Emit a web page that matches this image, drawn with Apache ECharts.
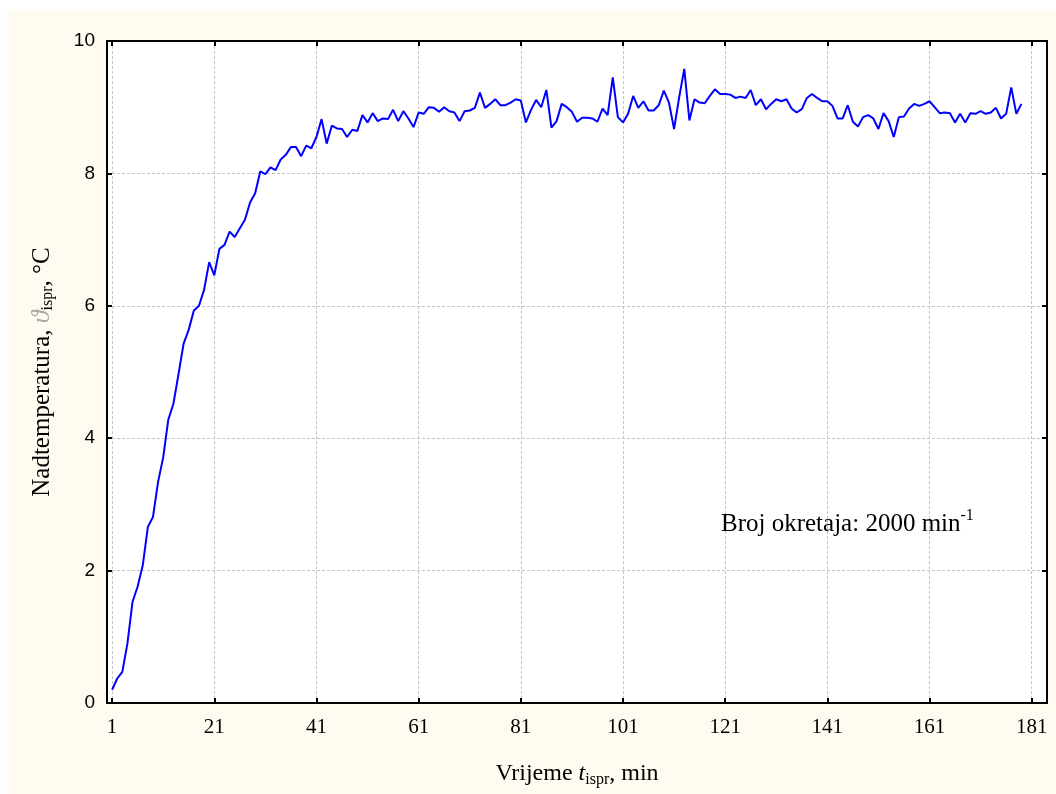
<!DOCTYPE html>
<html>
<head>
<meta charset="utf-8">
<script src="https://cdn.jsdelivr.net/npm/echarts@6/dist/echarts.min.js"></script>
<style>
html,body{margin:0;padding:0;background:#fff;}
#c{width:1056px;height:794px;}
</style>
</head>
<body>
<div id="c"></div>
<script>
// Minutes 1..179 and measured temperature rise (°C)
const temperature = [
  0.20, 0.37, 0.47, 0.90, 1.53, 1.76, 2.08, 2.66, 2.81, 3.34,
  3.71, 4.28, 4.52, 4.97, 5.43, 5.64, 5.93, 6.00, 6.24, 6.66,
  6.46, 6.86, 6.92, 7.12, 7.04, 7.17, 7.30, 7.56, 7.70, 8.03,
  7.99, 8.09, 8.05, 8.21, 8.28, 8.40, 8.40, 8.26, 8.42, 8.38,
  8.55, 8.82, 8.45, 8.72, 8.68, 8.67, 8.55, 8.66, 8.64, 8.88,
  8.77, 8.91, 8.79, 8.83, 8.82, 8.96, 8.79, 8.94, 8.83, 8.70,
  8.92, 8.90, 9.00, 8.99, 8.93, 9.00, 8.94, 8.92, 8.79, 8.94,
  8.95, 8.99, 9.22, 8.99, 9.05, 9.12, 9.03, 9.03, 9.07, 9.12,
  9.10, 8.77, 8.96, 9.11, 9.00, 9.26, 8.69, 8.79, 9.05, 9.00,
  8.93, 8.78, 8.84, 8.84, 8.83, 8.78, 8.98, 8.88, 9.45, 8.85,
  8.77, 8.90, 9.17, 8.99, 9.09, 8.95, 8.95, 9.03, 9.25, 9.07,
  8.67, 9.15, 9.58, 8.80, 9.12, 9.07, 9.06, 9.17, 9.27, 9.20,
  9.20, 9.19, 9.14, 9.16, 9.14, 9.26, 9.03, 9.12, 8.97, 9.05,
  9.12, 9.09, 9.12, 8.98, 8.92, 8.97, 9.14, 9.20, 9.14, 9.09,
  9.09, 9.02, 8.83, 8.83, 9.03, 8.78, 8.71, 8.85, 8.88, 8.83,
  8.67, 8.91, 8.79, 8.55, 8.85, 8.86, 8.98, 9.05, 9.02, 9.05,
  9.09, 9.00, 8.91, 8.92, 8.91, 8.77, 8.90, 8.77, 8.91, 8.90,
  8.94, 8.90, 8.92, 8.99, 8.83, 8.90, 9.30, 8.90, 9.05
];
const minutes = temperature.map((_, i) => i + 1);
const xTickLabels = [1, 21, 41, 61, 81, 101, 121, 141, 161, 181];
const yTickLabels = [0, 2, 4, 6, 8, 10];
const annotationText = 'Broj okretaja: 2000 min';

const chart = echarts.init(document.getElementById('c'), null, {renderer: 'canvas'});
const serif = '"Liberation Serif", "Times New Roman", serif';
const sans = '"Liberation Sans", Arial, sans-serif';
const gridLine = {show: true, lineStyle: {color: '#c4c4c4', type: [3, 2], width: 1}};
const axisLine = {show: true, onZero: false, lineStyle: {color: '#000', width: 2}};

const option = {
  backgroundColor: '#ffffff',
  animation: false,
  graphic: [
    {type: 'rect', z: -100, shape: {x: 7, y: 10, width: 1049, height: 784}, style: {fill: '#fffbf0'}, silent: true},
    {type: 'text', z: 100, style: {
      x: 721, y: 524, verticalAlign: 'middle',
      text: '{a|' + annotationText + '}{s|-1}',
      rich: {
        a: {fontFamily: serif, fontSize: 25, color: '#000', lineHeight: 32, verticalAlign: 'middle'},
        s: {fontFamily: serif, fontSize: 16, color: '#000', lineHeight: 15, verticalAlign: 'top'}
      }
    }}
  ],
  grid: {left: 107, right: 9, top: 41, bottom: 91, show: true, backgroundColor: '#ffffff', borderWidth: 0, containLabel: false},
  xAxis: [{
    type: 'value', min: 0, max: 184, position: 'bottom',
    name: '{a|Vrijeme }{i|t}{s|ispr}{a|, min}',
    nameLocation: 'middle', nameGap: 57,
    nameTextStyle: {
      rich: {
        a: {fontFamily: serif, fontSize: 24, color: '#000', lineHeight: 28, verticalAlign: 'middle'},
        i: {fontFamily: serif, fontSize: 24, fontStyle: 'italic', color: '#000', lineHeight: 28, verticalAlign: 'middle'},
        s: {fontFamily: serif, fontSize: 16, color: '#000', lineHeight: 15, verticalAlign: 'bottom'}
      }
    },
    axisLine: axisLine,
    axisTick: {show: true, inside: true, length: 5, customValues: xTickLabels, lineStyle: {color: '#000', width: 2}},
    axisLabel: {customValues: xTickLabels, margin: 14, fontFamily: serif, fontSize: 21, color: '#000'},
    splitLine: gridLine
  }, {
    type: 'value', min: 0, max: 184, position: 'top',
    axisLine: axisLine,
    axisTick: {show: true, inside: true, length: 5, customValues: xTickLabels, lineStyle: {color: '#000', width: 2}},
    axisLabel: {show: false},
    splitLine: {show: false}
  }],
  yAxis: [{
    type: 'value', min: 0, max: 10, interval: 2, position: 'left',
    name: '{a|Nadtemperatura, }{g|ϑ}{s|ispr}{a|, °C}',
    nameLocation: 'middle', nameGap: 51,
    nameTextStyle: {
      rich: {
        a: {fontFamily: serif, fontSize: 25, color: '#000', lineHeight: 28, verticalAlign: 'middle'},
        g: {fontFamily: serif, fontSize: 26, fontStyle: 'italic', color: '#a8a8a8', lineHeight: 28, verticalAlign: 'middle'},
        s: {fontFamily: serif, fontSize: 16, color: '#000', lineHeight: 15, verticalAlign: 'bottom'}
      }
    },
    axisLine: axisLine,
    axisTick: {show: true, inside: true, length: 5, lineStyle: {color: '#000', width: 2}},
    axisLabel: {margin: 12, fontFamily: sans, fontSize: 19, color: '#000',
      formatter: v => (yTickLabels.indexOf(v) >= 0 ? String(v) : '')},
    splitLine: gridLine
  }, {
    type: 'value', min: 0, max: 10, interval: 2, position: 'right',
    axisLine: axisLine,
    axisTick: {show: true, inside: true, length: 5, lineStyle: {color: '#000', width: 2}},
    axisLabel: {show: false},
    splitLine: {show: false}
  }],
  series: [{
    type: 'line',
    xAxisIndex: 0, yAxisIndex: 0,
    data: minutes.map((m, i) => [m, temperature[i]]),
    showSymbol: false,
    lineStyle: {color: '#0000ff', width: 2},
    itemStyle: {color: '#0000ff'},
    z: 5
  }]
};
chart.setOption(option);
</script>
</body>
</html>
